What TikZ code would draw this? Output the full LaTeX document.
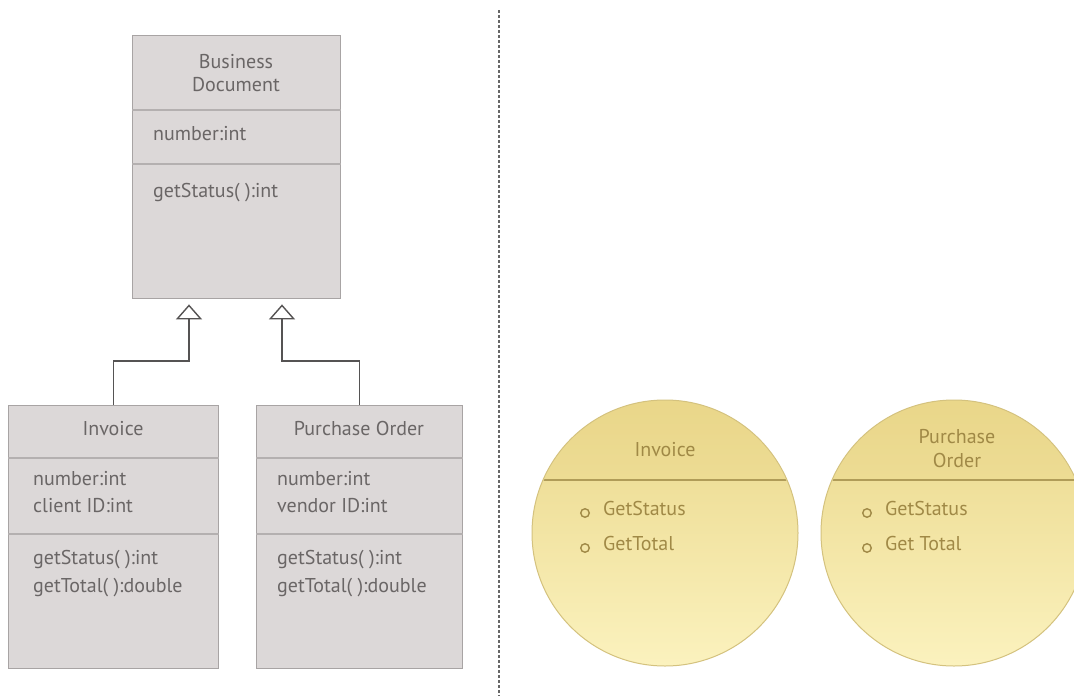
\documentclass[tikz,border=0pt]{standalone}
\usepackage{fontspec}
\setmainfont{PT Sans}
\usetikzlibrary{arrows.meta}
\definecolor{boxfill}{HTML}{DCD8D8}
\definecolor{boxline}{HTML}{A8A4A4}
\definecolor{boxdiv}{HTML}{B4B0B0}
\definecolor{boxtext}{HTML}{6A6666}
\definecolor{conn}{HTML}{555353}
\definecolor{ctop}{HTML}{EAD78A}
\definecolor{cbot}{HTML}{FBF2BE}
\definecolor{cline}{HTML}{D4C27E}
\definecolor{cdiv}{HTML}{B09C58}
\definecolor{ctext}{HTML}{A08946}
\begin{document}
\begin{tikzpicture}[x=1pt,y=-1pt,
  umlbox/.style={draw=boxline, line width=1.4pt, fill=boxfill, rectangle, inner sep=0pt, anchor=north west},
  boxdivider/.style={draw=boxdiv, line width=1.2pt},
  btext/.style={text=boxtext, inner sep=0pt, font=\fontsize{20}{23}\selectfont},
  ctitle/.style={text=ctext, inner sep=0pt, align=center, font=\fontsize{20}{24}\selectfont},
  ctxt/.style={text=ctext, inner sep=0pt, anchor=mid west, font=\fontsize{20}{22}\selectfont},
  bullet/.style={draw=ctext, line width=1.4pt, circle, inner sep=0pt, minimum size=8.5pt},
  inh/.style={draw=conn, line width=1.4pt, -{Triangle[open, width=26pt, length=15pt, line width=1.4pt]}, shorten >=5pt},
  sepline/.style={draw=black!60, line width=1.3pt, dash pattern=on 3pt off 2pt},
  lollipop/.style={circle, draw=cline, line width=1pt, top color=ctop, bottom color=cbot, minimum size=266pt, inner sep=0pt}
]
\path[use as bounding box] (0,0) rectangle (1074,696);
\fill[white] (0,0) rectangle (1074,696);

% ---------- UML class boxes ----------
\node[umlbox, minimum width=208pt, minimum height=263pt] (bd) at (132,35) {};
\node[umlbox, minimum width=210pt, minimum height=263pt] (inv) at (8,405) {};
\node[umlbox, minimum width=206pt, minimum height=263pt] (po) at (256,405) {};

\draw[boxdivider] ([yshift=-75pt]bd.north west) -- ([yshift=-75pt]bd.north east);
\draw[boxdivider] ([yshift=-129pt]bd.north west) -- ([yshift=-129pt]bd.north east);
\draw[boxdivider] ([yshift=-53pt]inv.north west) -- ([yshift=-53pt]inv.north east);
\draw[boxdivider] ([yshift=-129pt]inv.north west) -- ([yshift=-129pt]inv.north east);
\draw[boxdivider] ([yshift=-53pt]po.north west) -- ([yshift=-53pt]po.north east);
\draw[boxdivider] ([yshift=-129pt]po.north west) -- ([yshift=-129pt]po.north east);

\node[btext, align=center] (bdt) at (236,73) {Business\\Document};
\node[btext, anchor=mid west] (bda) at (153,138) {number:int};
\node[btext, anchor=mid west] (bdo) at (153,195) {getStatus( ):int};

\node[btext, anchor=mid] (invt) at (113,433) {Invoice};
\node[btext, anchor=mid west] (inva1) at (33,483) {number:int};
\node[btext, anchor=mid west] (inva2) at (33,510) {client ID:int};
\node[btext, anchor=mid west] (invo1) at (33,562) {getStatus( ):int};
\node[btext, anchor=mid west] (invo2) at (33,590) {getTotal( ):double};

\node[btext, anchor=mid] (pot) at (359,433) {Purchase Order};
\node[btext, anchor=mid west] (poa1) at (277,483) {number:int};
\node[btext, anchor=mid west] (poa2) at (277,510) {vendor ID:int};
\node[btext, anchor=mid west] (poo1) at (277,562) {getStatus( ):int};
\node[btext, anchor=mid west] (poo2) at (277,590) {getTotal( ):double};

% ---------- inheritance connectors ----------
\coordinate (j1) at (189,361);
\coordinate (j2) at (282,361);
\draw[inh] (inv.north) |- (j1) -- (j1 |- bd.south);
\draw[inh] (po.north) |- (j2) -- (j2 |- bd.south);

% ---------- separator ----------
\coordinate (s1) at (499,10);
\coordinate (s2) at (499,696);
\draw[sepline] (s1) -- (s2);

% ---------- lollipop circles ----------
\node[lollipop] (ci) at (665,533) {};
\node[lollipop] (cp) at (954,533) {};
\begin{scope}
  \clip (665,533) circle (132);
  \fill[ctop, opacity=0.35] (520,390) rectangle (810,480);
  \draw[cdiv, line width=1.2pt] (520,480) -- (810,480);
\end{scope}
\begin{scope}
  \clip (954,533) circle (132);
  \fill[ctop, opacity=0.35] (810,390) rectangle (1100,480);
  \draw[cdiv, line width=1.2pt] (810,480) -- (1100,480);
\end{scope}

\node[ctitle] (cit) at (665,450) {Invoice};
\node[bullet] (cib1) at (585,513) {};
\node[ctxt] (cis) at (603,513) {GetStatus};
\node[bullet] (cib2) at (585,548) {};
\node[ctxt] (cit2) at (603,548) {GetTotal};

\node[ctitle] (cpt) at (957,449) {Purchase\\Order};
\node[bullet] (cpb1) at (867,513) {};
\node[ctxt] (cps) at (885,513) {GetStatus};
\node[bullet] (cpb2) at (867,548) {};
\node[ctxt] (cpt2) at (885,548) {Get Total};
\end{tikzpicture}
\end{document}
